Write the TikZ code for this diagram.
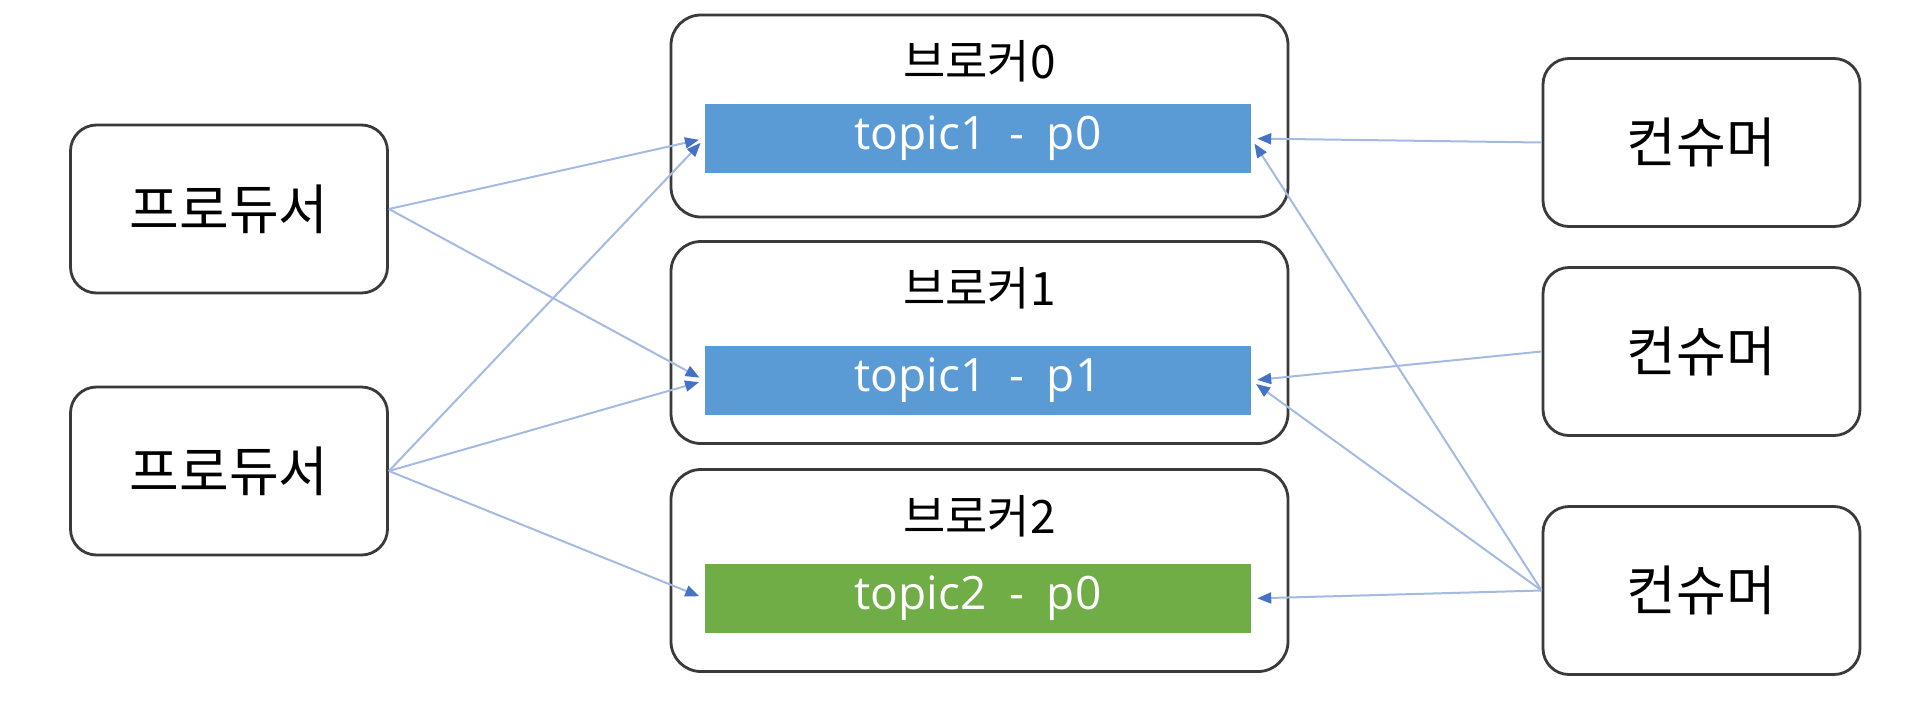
\documentclass[tikz,border=0pt]{standalone}
\usepackage{fontspec}
\usepackage{tikz}
\usetikzlibrary{arrows.meta,positioning}
\newfontfamily\cjk{Noto Sans CJK KR}
\newfontfamily\topicfont[WordSpace=1.9]{Open Sans}
\definecolor{boxline}{HTML}{3A3A3A}
\definecolor{topicblue}{HTML}{5B9BD5}
\definecolor{topicgreen}{HTML}{70AD47}
\definecolor{linkblue}{HTML}{A4BAE3}
\definecolor{tipblue}{HTML}{4472C4}
\tikzset{
  actor/.style={draw=boxline, line width=2.8pt, rounded corners=26pt, minimum width=317pt, minimum height=168pt, font=\cjk\fontsize{54}{60}\selectfont},
  broker/.style={draw=boxline, line width=2.8pt, rounded corners=30pt, minimum width=617pt, minimum height=202pt},
  brklab/.style={font=\cjk\fontsize{46}{52}\selectfont, inner sep=0pt},
  part/.style={minimum width=546pt, minimum height=69pt, inner sep=0pt, text=white, font=\topicfont\fontsize{46}{52}\selectfont},
  link/.style={draw=linkblue, line width=2pt, -{Triangle[length=14pt,width=11pt,color=tipblue]}, shorten >=6pt},
}
\begin{document}
\begin{tikzpicture}[x=1pt, y=-1pt]
\useasboundingbox (0,0) rectangle (1920,718);
% producers
\node[actor] (prod1) at (229,209) {프로듀서};
\node[actor] (prod2) at (229,471) {프로듀서};
% brokers and their partitions
\node[broker] (brk0) at (979.5,116) {};
\node[broker] (brk1) at (979.5,342.5) {};
\node[broker] (brk2) at (979.5,570.5) {};
\node[brklab] (lab0) at ([yshift=-48pt]brk0.north) {브로커0};
\node[brklab] (lab1) at ([yshift=-48pt]brk1.north) {브로커1};
\node[brklab] (lab2) at ([yshift=-48pt]brk2.north) {브로커2};
\node[part, fill=topicblue] (t1p0) at (978,138.5) {topic1 - p0};
\node[part, fill=topicblue] (t1p1) at (978,380.5) {topic1 - p1};
\node[part, fill=topicgreen] (t2p0) at (978,598.5) {topic2 - p0};
% consumers
\node[actor] (cons1) at (1701.5,142.5) {컨슈머};
\node[actor] (cons2) at (1701.5,351.5) {컨슈머};
\node[actor] (cons3) at (1701.5,590.5) {컨슈머};
% writes
\draw[link] (prod1.east) -- (t1p0.west);
\draw[link] (prod1.east) -- (t1p1.west);
\draw[link] (prod2.east) -- (t1p0.west);
\draw[link] (prod2.east) -- (t1p1.west);
\draw[link] (prod2.east) -- (t2p0.west);
% reads
\draw[link] (cons1.west) -- (t1p0.east);
\draw[link] (cons2.west) -- (t1p1.east);
\draw[link] (cons3.west) -- (t1p0.east);
\draw[link] (cons3.west) -- (t1p1.east);
\draw[link] (cons3.west) -- (t2p0.east);
\end{tikzpicture}
\end{document}
